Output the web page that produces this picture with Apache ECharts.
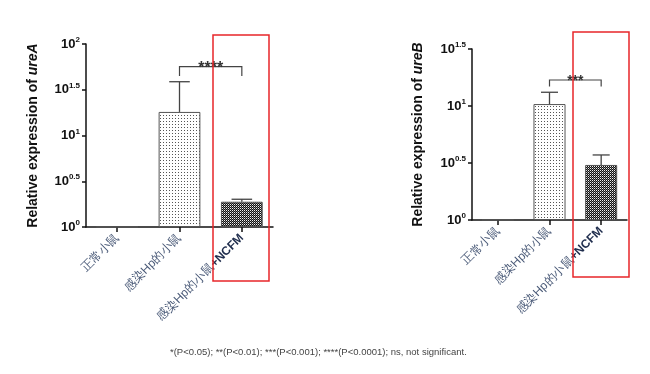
<!DOCTYPE html>
<html><head><meta charset="utf-8">
<script src="https://cdn.jsdelivr.net/npm/echarts@6/dist/echarts.min.js"></script>
<style>html,body{margin:0;padding:0;background:#fff}#c{width:650px;height:374px}</style>
</head><body><div id="c"></div>
<script>
// ---- data ----
const categories = ['正常小鼠', '感染Hp的小鼠', '感染Hp的小鼠+NCFM'];
const ureAMeans = [1, 18.1, 1.89];
const ureAErrTop = [null, 38.7, 2.01];
const ureBMeans = [1, 10.4, 3.04];
const ureBErrTop = [null, 13.2, 3.72];
const ureATickExps = [0, 0.5, 1, 1.5, 2];
const ureBTickExps = [0, 0.5, 1, 1.5];
const bracketA = [1, 2, 56.5, 44.7]; // from cat, to cat, bar y, leg end y
const bracketB = [1, 2, 16.9, 14.8];
const sigA = '****';
const sigB = '***';
const footnote = '*(P<0.05); **(P<0.01); ***(P<0.001); ****(P<0.0001); ns, not significant.';

// ---- patterns ----
function dotPattern() {
  const c = document.createElement('canvas'); c.width = 3; c.height = 3;
  const g = c.getContext('2d'); g.fillStyle = '#fff'; g.fillRect(0, 0, 3, 3);
  g.fillStyle = '#555'; g.fillRect(1, 1, 1, 1);
  return c;
}
function checkPattern() {
  const c = document.createElement('canvas'); c.width = 2; c.height = 2;
  const g = c.getContext('2d'); g.fillStyle = '#111'; g.fillRect(0, 0, 2, 2);
  g.fillStyle = '#f0f0f0'; g.fillRect(0, 0, 1, 1);
  g.fillStyle = '#777'; g.fillRect(1, 1, 1, 1);
  return c;
}
const fills = [
  '#fff',
  { image: dotPattern(), repeat: 'repeat' },
  { image: checkPattern(), repeat: 'repeat' }
];

const chart = echarts.init(document.getElementById('c'), null, { renderer: 'canvas' });

function yLabel(v) {
  const e = Math.round(Math.log10(v) * 10) / 10;
  return '{b|10}{s|' + e + '}';
}
const yRich = {
  b: { fontSize: 13, fontWeight: 'bold', fontFamily: 'Arial', color: '#111', lineHeight: 16 },
  s: { fontSize: 8, fontWeight: 'bold', fontFamily: 'Arial', color: '#111', lineHeight: 8, verticalAlign: 'top' }
};
const xRich = {
  n: { fontWeight: 'bold', color: '#1f2d4d', fontSize: 12, fontFamily: 'Arial' }
};
function xLabel(v) {
  return v.replace('+NCFM', '{n|+NCFM}');
}

function makeY(gridIndex, max, gap, gene) {
  return {
    type: 'log', logBase: 10, gridIndex, min: 1, max, interval: 0.5,
    name: 'Relative expression of {i|' + gene + '}',
    nameLocation: 'middle', nameGap: gap, nameRotate: 90,
    nameTextStyle: {
      fontSize: 14, fontWeight: 'bold', fontFamily: 'Arial', color: '#111',
      rich: { i: { fontSize: 14, fontWeight: 'bold', fontStyle: 'italic', fontFamily: 'Arial', color: '#111' } }
    },
    axisLine: { show: true, lineStyle: { color: '#111', width: 1.5 } },
    axisTick: { show: true, length: 4, lineStyle: { color: '#111', width: 1.5 } },
    splitLine: { show: false }, minorTick: { show: false },
    axisLabel: { formatter: yLabel, rich: yRich, margin: 6 }
  };
}
function makeX(gridIndex) {
  return {
    type: 'category', gridIndex, data: categories,
    axisLine: { show: true, lineStyle: { color: '#111', width: 1.5 } },
    axisTick: { show: true, alignWithLabel: true, length: 5, lineStyle: { color: '#111', width: 1.5 } },
    axisLabel: { rotate: 45, fontSize: 12, color: '#4a5a78', fontFamily: 'Arial', margin: 9, formatter: xLabel, rich: xRich, interval: 0 }
  };
}

function errSeries(idx, means, tops) {
  const data = [];
  tops.forEach((t, i) => { if (t != null) data.push([i, t, means[i]]); });
  return {
    type: 'custom', xAxisIndex: idx, yAxisIndex: idx, data, z: 5,
    encode: { x: 0, y: [1, 2] },
    renderItem(params, api) {
      const x = api.value(0);
      const pT = api.coord([x, api.value(1)]);
      const pM = api.coord([x, api.value(2)]);
      const band = api.size([1, 0])[0];
      const half = band * 0.165;
      const st = { stroke: '#444', lineWidth: 1.3 };
      return { type: 'group', children: [
        { type: 'line', shape: { x1: pT[0], y1: pT[1], x2: pM[0], y2: pM[1] }, style: st },
        { type: 'line', shape: { x1: pT[0] - half, y1: pT[1], x2: pT[0] + half, y2: pT[1] }, style: st }
      ] };
    }
  };
}
function bracketSeries(idx, br, label, fsz) {
  return {
    type: 'custom', xAxisIndex: idx, yAxisIndex: idx, z: 6,
    data: [[br[0], br[2], br[1], br[3]]],
    encode: { x: [0, 2], y: [1, 3] },
    renderItem(params, api) {
      const a = api.coord([api.value(0), api.value(1)]);
      const b = api.coord([api.value(2), api.value(1)]);
      const la = api.coord([api.value(0), api.value(3)]);
      const lb = api.coord([api.value(2), api.value(3)]);
      const st = { stroke: '#444', lineWidth: 1.2 };
      return { type: 'group', children: [
        { type: 'polyline', shape: { points: [[la[0], la[1]], [a[0], a[1]], [b[0], b[1]], [lb[0], lb[1]]] }, style: Object.assign({ fill: null }, st) },
        { type: 'text', x: (a[0] + b[0]) / 2, y: a[1] - 6, style: { text: label, fill: '#333', font: 'bold ' + fsz + 'px Arial', align: 'center', verticalAlign: 'top' } }
      ] };
    }
  };
}
function barSeries(idx, vals, gap) {
  return {
    type: 'bar', xAxisIndex: idx, yAxisIndex: idx, barCategoryGap: gap,
    data: vals.map((v, i) => ({ value: v, itemStyle: { color: fills[i] } })),
    itemStyle: { borderColor: '#555', borderWidth: 1 },
    silent: true
  };
}

chart.setOption({
  animation: false,
  grid: [
    { left: 86, top: 44, width: 187, height: 183, containLabel: false },
    { left: 472, top: 49, width: 155, height: 171, containLabel: false }
  ],
  xAxis: [makeX(0), makeX(1)],
  yAxis: [makeY(0, 100, 46, 'ureA'), makeY(1, Math.pow(10, 1.5), 47, 'ureB')],
  series: [
    barSeries(0, ureAMeans, '33%'),
    errSeries(0, ureAMeans, ureAErrTop),
    bracketSeries(0, bracketA, sigA, 16),
    barSeries(1, ureBMeans, '38%'),
    errSeries(1, ureBMeans, ureBErrTop),
    bracketSeries(1, bracketB, sigB, 14)
  ],
  graphic: [
    { type: 'rect', shape: { x: 213, y: 35, width: 56, height: 246 }, style: { fill: null, stroke: '#e8262a', lineWidth: 1.5 }, z: 20 },
    { type: 'rect', shape: { x: 573, y: 32, width: 56, height: 245 }, style: { fill: null, stroke: '#e8262a', lineWidth: 1.5 }, z: 20 },
    { type: 'text', x: 170, y: 347, style: { text: footnote, fill: '#444', font: '9.5px Arial' } }
  ]
});
</script>
</body></html>
